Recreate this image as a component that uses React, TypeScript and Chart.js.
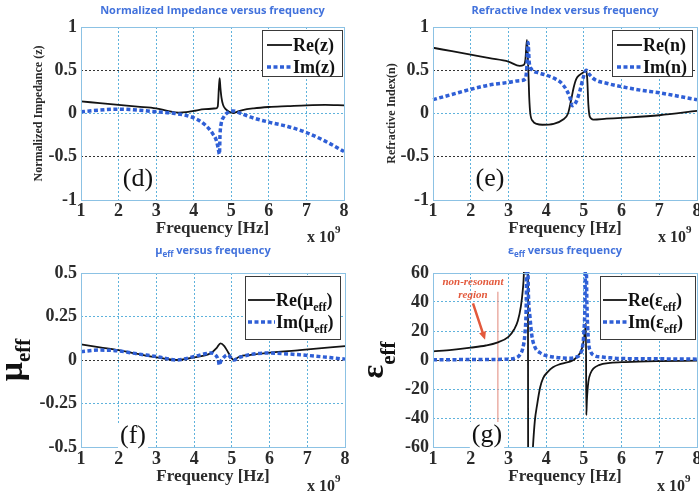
import React, { useEffect, useRef } from 'react';
import { Chart, registerables } from 'chart.js';

Chart.register(...registerables);

// ---------------- data ----------------
const FREQ_MIN = 1;
const FREQ_MAX = 8;
const FREQ_STEP = 1;

// (d) normalized impedance z
const zReFreq = [1, 1.5, 2, 2.5, 3, 3.3, 3.6, 3.8, 4.0, 4.3, 4.6, 4.64, 4.67, 4.69, 4.71, 4.74, 4.78, 4.85, 4.95, 5.05, 5.15, 5.3, 5.6, 6, 6.5, 7, 7.5, 8];
const zReVal = [0.14, 0.12, 0.10, 0.08, 0.06, 0.03, 0.01, 0.015, 0.03, 0.05, 0.06, 0.08, 0.30, 0.41, 0.30, 0.18, 0.10, 0.05, 0.02, 0.005, 0.02, 0.04, 0.06, 0.075, 0.085, 0.095, 0.10, 0.095];
const zImFreq = [1, 1.5, 2, 2.5, 3, 3.5, 4, 4.3, 4.5, 4.6, 4.65, 4.685, 4.70, 4.73, 4.8, 4.9, 5.05, 5.2, 5.5, 6, 6.5, 7, 7.5, 8];
const zImVal = [0.02, 0.04, 0.05, 0.04, 0.02, 0.0, -0.05, -0.13, -0.23, -0.31, -0.40, -0.47, -0.25, -0.12, -0.04, 0.01, 0.03, 0.01, -0.04, -0.10, -0.15, -0.22, -0.32, -0.44];

// (e) refractive index n
const nReFreq = [1, 1.5, 2, 2.5, 3, 3.3, 3.4, 3.45, 3.49, 3.52, 3.55, 3.58, 3.65, 3.75, 3.9, 4.2, 4.45, 4.58, 4.66, 4.73, 4.8, 4.9, 5.0, 5.06, 5.09, 5.12, 5.16, 5.25, 5.6, 6, 7, 8];
const nReVal = [0.76, 0.72, 0.68, 0.64, 0.60, 0.55, 0.56, 0.62, 0.85, 0.6, 0.2, 0.0, -0.09, -0.12, -0.13, -0.12, -0.07, 0.0, 0.15, 0.3, 0.4, 0.45, 0.48, 0.5, 0.4, 0.1, -0.04, -0.07, -0.06, -0.05, -0.02, 0.03];
const nImFreq = [1, 1.5, 2, 2.5, 3, 3.3, 3.45, 3.49, 3.52, 3.55, 3.6, 3.8, 4.2, 4.45, 4.62, 4.7, 4.8, 4.9, 4.98, 5.06, 5.15, 5.3, 5.6, 6, 6.5, 7, 7.5, 8];
const nImVal = [0.16, 0.22, 0.28, 0.33, 0.36, 0.38, 0.40, 0.55, 0.82, 0.6, 0.52, 0.47, 0.41, 0.33, 0.2, 0.09, 0.14, 0.27, 0.41, 0.5, 0.45, 0.39, 0.35, 0.31, 0.27, 0.24, 0.2, 0.16];

// (f) mu_eff
const muReFreq = [1, 1.5, 2, 2.5, 3, 3.55, 4, 4.45, 4.6, 4.7, 4.8, 4.9, 5.05, 5.2, 5.5, 5.9, 6.8, 8];
const muReVal = [0.09, 0.073, 0.057, 0.035, 0.015, 0.0, 0.015, 0.04, 0.07, 0.096, 0.08, 0.045, 0.0, 0.02, 0.03, 0.04, 0.057, 0.08];
const muImFreq = [1, 1.5, 2, 2.5, 3, 3.55, 4, 4.45, 4.58, 4.64, 4.67, 4.70, 4.73, 4.88, 5.05, 5.2, 5.9, 6.8, 8];
const muImVal = [0.048, 0.057, 0.052, 0.035, 0.02, 0.0, 0.02, 0.04, 0.025, 0.0, -0.03, -0.01, 0.0, 0.03, 0.0, 0.015, 0.04, 0.03, 0.005];

// (g) eps_eff
const epsReFreq = [1, 1.5, 2, 2.4, 2.7, 3.0, 3.15, 3.25, 3.33, 3.38, 3.41, 3.46, 3.51, 3.53, 3.58, 3.65, 3.7, 3.76, 3.84, 3.92, 4.05, 4.18, 4.35, 4.5, 4.65, 4.75, 4.85, 4.92, 4.97, 5.01, 5.04, 5.055, 5.065, 5.08, 5.12, 5.18, 5.25, 5.4, 5.7, 6.1, 7, 8];
const epsReVal = [6, 7, 8.5, 10, 12, 16, 21, 27, 37, 48, 60, 120, 250, -250, -100, -60, -42, -31, -19, -12.5, -8, -5, -3, -2, -1, 0.5, 3, 6, 10, 16, 22, 25, -38, -28, -15, -9, -6, -3.5, -2, -1.4, -0.8, -0.5];
const epsImFreq = [1, 2, 2.5, 3.0, 3.2, 3.3, 3.38, 3.44, 3.47, 3.5, 3.53, 3.57, 3.62, 3.7, 3.84, 4.0, 4.2, 4.6, 4.8, 4.9, 4.97, 5.0, 5.03, 5.05, 5.08, 5.12, 5.18, 5.25, 5.5, 5.7, 6, 7, 8];
const epsImVal = [0.2, 0.3, 0.4, 0.6, 1.5, 3.5, 8, 19, 35, 90, 45, 30, 17, 9, 5, 3, 2, 1.2, 2, 4, 10, 19, 40, 90, 40, 14, 6, 3.5, 2, 1.5, 1, 0.8, 0.6];

// (g) annotation: non-resonant region (data coordinates)
const noteLineX = 2.72;
const noteLineY = [47, -60];
const noteArrowX = [2.06, 2.38];
const noteArrowY = [39, 14];
const noteTextX = 2.06;
const noteTextY = [51.7, 42.8];
const noteText = ['non-resonant', 'region'];

// ---------------- styles ----------------
const SERIF = "'Liberation Serif', 'DejaVu Serif', 'Times New Roman', serif";
const SANS = "'Open Sans', 'Liberation Sans', sans-serif";
const BLACK = '#141414';
const BLUE = '#2f5fd6';
const TITLE_BLUE = '#4272dc';
const GRID_CYAN = '#5fb2dc';
const GRID_DARK = '#333333';
const FRAME = '#8cc2e4';
const TICK = '#2b2b2b';
const RED = '#e3593c';
const RED_LINE = '#e59a90';
const NONE = 'rgba(0,0,0,0)';

type Series = { label: string; xs: number[]; ys: number[]; dotted: boolean };
interface PanelCfg {
  key: string;
  box: { left: number; top: number; w: number; h: number };
  area: { l: number; r: number; t: number; b: number };
  y: { min: number; max: number; step: number; dark: number[] };
  series: Series[];
  title: string;
  yTitle?: { text: string; center: number };
  yRich?: { text: string; x: number; size: number; small: number; sub: number };
  xTitleCenter: number;
  tickPadX: number;
  tag: { text: string; cx: number; cy: number };
  exp: { dx: number; y: number };
  legend: { inset: number; w: number; h: number; row1: number; row2: number; s0: number; s1: number; tx: number };
  note?: boolean;
}

const panels: PanelCfg[] = [
  {
    key: 'd',
    box: { left: 0, top: 0, w: 350, h: 246 },
    area: { l: 81, r: 344, t: 27, b: 200 },
    y: { min: -1, max: 1, step: 0.5, dark: [0.5, -0.5] },
    series: [
      { label: 'Re(z)', xs: zReFreq, ys: zReVal, dotted: false },
      { label: 'Im(z)', xs: zImFreq, ys: zImVal, dotted: true },
    ],
    title: 'Normalized Impedance versus frequency',
    yTitle: { text: 'Normalized Impedance (z)', center: 39 },
    xTitleCenter: 229,
    tickPadX: 1,
    tag: { text: '(d)', cx: 138, cy: 179 },
    exp: { dx: 37, y: 242 },
    legend: { inset: 2, w: 80, h: 46, row1: 15, row2: 37, s0: 5, s1: 30, tx: 31 },
  },
  {
    key: 'e',
    box: { left: 350, top: 0, w: 349, h: 246 },
    area: { l: 83, r: 347, t: 27, b: 200 },
    y: { min: -1, max: 1, step: 0.5, dark: [0.5, -0.5] },
    series: [
      { label: 'Re(n)', xs: nReFreq, ys: nReVal, dotted: false },
      { label: 'Im(n)', xs: nImFreq, ys: nImVal, dotted: true },
    ],
    title: 'Refractive Index versus frequency',
    yTitle: { text: 'Refractive Index(n)', center: 42 },
    xTitleCenter: 229,
    tickPadX: 1,
    tag: { text: '(e)', cx: 140, cy: 179 },
    exp: { dx: 39, y: 242 },
    legend: { inset: 5, w: 80, h: 46, row1: 15, row2: 37, s0: 5, s1: 30, tx: 31 },
  },
  {
    key: 'f',
    box: { left: 0, top: 240, w: 350, h: 253 },
    area: { l: 81, r: 345, t: 33, b: 207 },
    y: { min: -0.5, max: 0.5, step: 0.25, dark: [0] },
    series: [
      { label: 'Re(μ_eff)', xs: muReFreq, ys: muReVal, dotted: false },
      { label: 'Im(μ_eff)', xs: muImFreq, ys: muImVal, dotted: true },
    ],
    title: 'μ_eff versus frequency',
    yRich: { text: 'μ_eff', x: 22, size: 34, small: 21, sub: 8 },
    xTitleCenter: 237,
    tickPadX: 2,
    tag: { text: '(f)', cx: 133, cy: 196 },
    exp: { dx: 38, y: 251 },
    legend: { inset: 5, w: 95, h: 63, row1: 24, row2: 46, s0: 3, s1: 30, tx: 31 },
  },
  {
    key: 'g',
    box: { left: 350, top: 240, w: 349, h: 253 },
    area: { l: 83, r: 347, t: 33, b: 207 },
    y: { min: -60, max: 60, step: 20, dark: [0] },
    series: [
      { label: 'Re(ε_eff)', xs: epsReFreq, ys: epsReVal, dotted: false },
      { label: 'Im(ε_eff)', xs: epsImFreq, ys: epsImVal, dotted: true },
    ],
    title: 'ε_eff versus frequency',
    yRich: { text: 'ε_eff', x: 33, size: 32, small: 21, sub: 12 },
    xTitleCenter: 237,
    tickPadX: 2,
    tag: { text: '(g)', cx: 137, cy: 195 },
    exp: { dx: 40, y: 251 },
    legend: { inset: 2, w: 95, h: 63, row1: 24, row2: 46, s0: 3, s1: 27, tx: 28 },
    note: true,
  },
];

// ---------------- rich text helpers ----------------
type Seg = { t: string; k: 0 | 1 | 2 };
function parseRich(s: string): Seg[] {
  const out: Seg[] = [];
  const re = /([_^])([A-Za-z0-9]+)/g;
  let last = 0;
  let m: RegExpExecArray | null;
  while ((m = re.exec(s))) {
    if (m.index > last) out.push({ t: s.slice(last, m.index), k: 0 });
    out.push({ t: m[2], k: m[1] === '_' ? 1 : 2 });
    last = m.index + m[0].length;
  }
  if (last < s.length) out.push({ t: s.slice(last), k: 0 });
  return out;
}

interface RichOpts {
  size: number; small: number; family: string; weight: string; style?: string;
  color: string; align: 'left' | 'center' | 'right'; sub: number; sup: number;
}
function drawRich(ctx: CanvasRenderingContext2D, s: string, x: number, y: number, o: RichOpts) {
  const segs = parseRich(s);
  const font = (g: Seg) => `${o.style || 'normal'} ${o.weight} ${g.k ? o.small : o.size}px ${o.family}`;
  let total = 0;
  for (const g of segs) { ctx.font = font(g); total += ctx.measureText(g.t).width; }
  let cx = o.align === 'left' ? x : o.align === 'center' ? x - total / 2 : x - total;
  ctx.fillStyle = o.color;
  ctx.textAlign = 'left';
  ctx.textBaseline = 'alphabetic';
  for (const g of segs) {
    ctx.font = font(g);
    const dy = g.k === 1 ? o.sub : g.k === 2 ? -o.sup : 0;
    ctx.fillText(g.t, cx, y + dy);
    cx += ctx.measureText(g.t).width;
  }
  return total;
}

const near = (a: number, b: number) => Math.abs(a - b) < 1e-9;
const fmtTick = (v: any) => String(Math.round(Number(v) * 1000) / 1000);

function decorPlugin(cfg: PanelCfg) {
  return {
    id: 'decor_' + cfg.key,
    beforeDatasetsDraw(chart: any) {
      if (!cfg.note) return;
      const { ctx } = chart;
      const xs = chart.scales.x;
      const ys = chart.scales.y;
      ctx.save();
      const px = xs.getPixelForValue(noteLineX);
      ctx.strokeStyle = RED_LINE;
      ctx.lineWidth = 1.2;
      ctx.beginPath();
      ctx.moveTo(px, ys.getPixelForValue(noteLineY[0]));
      ctx.lineTo(px, ys.getPixelForValue(noteLineY[1]));
      ctx.stroke();
      const ax0 = xs.getPixelForValue(noteArrowX[0]);
      const ay0 = ys.getPixelForValue(noteArrowY[0]);
      const ax1 = xs.getPixelForValue(noteArrowX[1]);
      const ay1 = ys.getPixelForValue(noteArrowY[1]);
      const ang = Math.atan2(ay1 - ay0, ax1 - ax0);
      const head = 8;
      const c = Math.cos(ang), s = Math.sin(ang);
      ctx.strokeStyle = RED;
      ctx.lineWidth = 2.5;
      ctx.beginPath();
      ctx.moveTo(ax0, ay0);
      ctx.lineTo(ax1 - head * 0.8 * c, ay1 - head * 0.8 * s);
      ctx.stroke();
      ctx.fillStyle = RED;
      ctx.beginPath();
      ctx.moveTo(ax1, ay1);
      ctx.lineTo(ax1 - head * c + head * 0.45 * s, ay1 - head * s - head * 0.45 * c);
      ctx.lineTo(ax1 - head * c - head * 0.45 * s, ay1 - head * s + head * 0.45 * c);
      ctx.closePath();
      ctx.fill();
      ctx.font = `italic bold 11px ${SERIF}`;
      ctx.textAlign = 'center';
      ctx.textBaseline = 'alphabetic';
      noteText.forEach((t, i) => ctx.fillText(t, xs.getPixelForValue(noteTextX), ys.getPixelForValue(noteTextY[i])));
      ctx.restore();
    },
    afterDraw(chart: any) {
      const { ctx, chartArea: ca } = chart;
      ctx.save();
      // frame
      ctx.strokeStyle = FRAME;
      ctx.lineWidth = 1;
      const l = Math.round(ca.left), t = Math.round(ca.top);
      ctx.strokeRect(l + 0.5, t + 0.5, Math.round(ca.right) - l, Math.round(ca.bottom) - t);

      // panel tag
      ctx.font = `normal 26px ${SERIF}`;
      const tw = ctx.measureText(cfg.tag.text).width;
      ctx.fillStyle = '#ffffff';
      ctx.fillRect(cfg.tag.cx - tw / 2 - 2, cfg.tag.cy - 13, tw + 4, 27);
      ctx.fillStyle = '#111111';
      ctx.textAlign = 'center';
      ctx.textBaseline = 'middle';
      ctx.fillText(cfg.tag.text, cfg.tag.cx, cfg.tag.cy);

      // legend
      const lg = cfg.legend;
      const bx = Math.round(ca.right) - lg.inset - lg.w;
      const by = Math.round(ca.top) + 3;
      ctx.fillStyle = '#ffffff';
      ctx.fillRect(bx, by, lg.w, lg.h);
      ctx.strokeStyle = '#3a3a3a';
      ctx.lineWidth = 1;
      ctx.strokeRect(bx + 0.5, by + 0.5, lg.w, lg.h);
      chart.data.datasets.forEach((ds: any, i: number) => {
        const yy = by + (i === 0 ? lg.row1 : lg.row2);
        ctx.save();
        ctx.strokeStyle = ds.borderColor;
        ctx.lineWidth = ds.borderWidth;
        ctx.setLineDash(ds.borderDash || []);
        ctx.beginPath();
        ctx.moveTo(bx + lg.s0, yy);
        ctx.lineTo(bx + lg.s1, yy);
        ctx.stroke();
        ctx.restore();
        drawRich(ctx, ds.label, bx + lg.tx, yy + 6, {
          size: 18, small: 12, family: SERIF, weight: 'bold', color: '#111111', align: 'left', sub: 5, sup: 0,
        });
      });

      // title
      drawRich(ctx, cfg.title, (ca.left + ca.right) / 2, 14, {
        size: 11, small: 8, family: SANS, weight: 'bold', color: TITLE_BLUE, align: 'center', sub: 3, sup: 0,
      });

      // exponent
      drawRich(ctx, 'x 10^9', Math.round(ca.right) - cfg.exp.dx, cfg.exp.y, {
        size: 16, small: 11, family: SERIF, weight: 'bold', color: TICK, align: 'left', sub: 0, sup: 9,
      });

      // rich y title
      if (cfg.yRich) {
        const yr = cfg.yRich;
        ctx.translate(yr.x, (ca.top + ca.bottom) / 2);
        ctx.rotate(-Math.PI / 2);
        drawRich(ctx, yr.text, 0, 0, {
          size: yr.size, small: yr.small, family: SERIF, weight: 'bold', color: '#111111', align: 'center', sub: yr.sub, sup: 0,
        });
      }
      ctx.restore();
    },
  };
}

function makeConfig(cfg: PanelCfg): any {
  const H = cfg.box.h;
  const W = cfg.box.w;
  const tickFont = { family: SERIF, size: 18, weight: 'bold' as const };
  const datasets = cfg.series.map((s) => ({
    label: s.label,
    data: s.xs.map((x, i) => ({ x, y: s.ys[i] })),
    borderColor: s.dotted ? BLUE : BLACK,
    borderWidth: s.dotted ? 3.5 : 1.8,
    borderDash: s.dotted ? [4, 2.5] : [],
    pointRadius: 0,
    pointHoverRadius: 0,
    fill: false,
    cubicInterpolationMode: 'monotone',
    clip: 1,
    order: s.dotted ? 0 : 1,
  }));
  return {
    type: 'line',
    data: { datasets },
    plugins: [decorPlugin(cfg)],
    options: {
      responsive: false,
      animation: false,
      events: [],
      layout: { padding: { left: 0, top: cfg.area.t, right: W - cfg.area.r, bottom: 0 } },
      plugins: { legend: { display: false }, title: { display: false }, tooltip: { enabled: false } },
      scales: {
        x: {
          type: 'linear',
          min: FREQ_MIN,
          max: FREQ_MAX,
          ticks: { stepSize: FREQ_STEP, padding: cfg.tickPadX, color: TICK, font: tickFont, maxRotation: 0, autoSkip: false, callback: fmtTick },
          grid: {
            drawTicks: false,
            lineWidth: 1,
            color: (c: any) => {
              const v = c.tick ? c.tick.value : NaN;
              return near(v, FREQ_MIN) || near(v, FREQ_MAX) ? NONE : GRID_CYAN;
            },
          },
          border: { display: false, dash: [2, 2] },
          title: {
            display: true,
            text: 'Frequency [Hz]',
            color: TICK,
            font: { family: SERIF, size: 17, weight: 'bold', lineHeight: 1 },
            padding: { top: 0, bottom: H - cfg.xTitleCenter - 8.5 },
          },
          afterFit: (s: any) => {
            s.height = H - cfg.area.b;
            s.paddingLeft = 0;
            s.paddingRight = 0;
          },
        },
        y: {
          type: 'linear',
          min: cfg.y.min,
          max: cfg.y.max,
          ticks: { stepSize: cfg.y.step, padding: 4, color: TICK, font: tickFont, callback: fmtTick },
          grid: {
            drawTicks: false,
            lineWidth: 1,
            color: (c: any) => {
              const v = c.tick ? c.tick.value : NaN;
              if (near(v, cfg.y.min) || near(v, cfg.y.max)) return NONE;
              return cfg.y.dark.some((d) => near(d, v)) ? GRID_DARK : GRID_CYAN;
            },
          },
          border: { display: false, dash: [2, 2] },
          title: cfg.yTitle
            ? {
                display: true,
                text: cfg.yTitle.text,
                color: TICK,
                font: { family: SERIF, size: 12, weight: 'bold', lineHeight: 1 },
                padding: { top: cfg.yTitle.center - 6, bottom: 0 },
              }
            : { display: false },
          afterFit: (s: any) => {
            s.width = cfg.area.l;
            s.paddingTop = 0;
            s.paddingBottom = 0;
          },
        },
      },
    },
  };
}

function Panel({ cfg }: { cfg: PanelCfg }) {
  const ref = useRef<HTMLCanvasElement>(null);
  useEffect(() => {
    if (!ref.current) return;
    const chart = new Chart(ref.current, makeConfig(cfg));
    return () => chart.destroy();
  }, [cfg]);
  return (
    <canvas
      ref={ref}
      width={cfg.box.w}
      height={cfg.box.h}
      style={{ position: 'absolute', left: cfg.box.left, top: cfg.box.top, width: cfg.box.w, height: cfg.box.h }}
    />
  );
}

export default function App() {
  return (
    <div style={{ position: 'fixed', left: 0, top: 0, width: 699, height: 493, background: '#ffffff', overflow: 'hidden' }}>
      {panels.map((p) => (
        <Panel key={p.key} cfg={p} />
      ))}
    </div>
  );
}
